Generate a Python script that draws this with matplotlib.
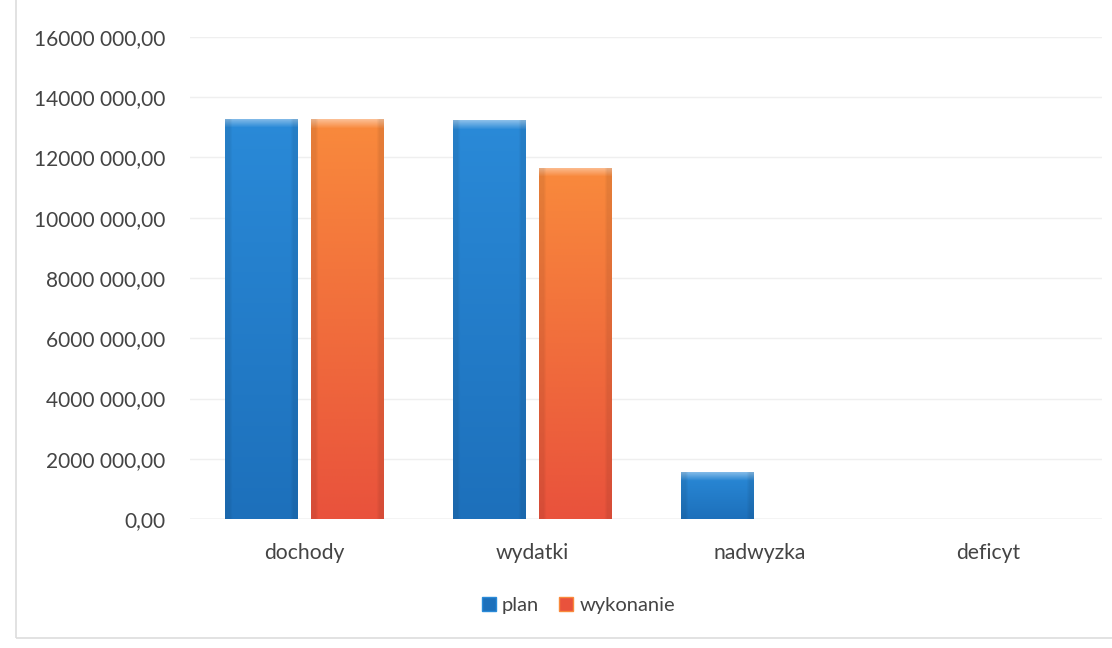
import numpy as np
import matplotlib.pyplot as plt
from matplotlib.colors import to_rgb
from matplotlib.patches import Rectangle

# ------------------------------------------------------------
# data
# ------------------------------------------------------------
categories = ["dochody", "wydatki", "nadwyzka", "deficyt"]
plan = [13290000, 13230000, 1570000, 0]
wykonanie = [13260000, 11650000, 0, 0]

yticks = [0, 2000000, 4000000, 6000000, 8000000, 10000000, 12000000, 14000000, 16000000]
ytick_labels = ["0,00", "2000 000,00", "4000 000,00", "6000 000,00", "8000 000,00",
                "10000 000,00", "12000 000,00", "14000 000,00", "16000 000,00"]

series_names = ["plan", "wykonanie"]
# (top colour, bottom colour) of the gradient fill
series_colors = [("#2a8ad8", "#1d70bb"), ("#f98a3c", "#e9523c")]

plt.rcParams["font.family"] = ["Lato", "DejaVu Sans"]
text_color = "#444444"

fig = plt.figure(figsize=(11.12, 6.48), dpi=100)
ax = fig.add_axes([0.171, 0.199, 0.820, 0.744])

x = np.arange(len(categories))
width = 0.316
offset = 0.19

ax.set_xlim(-0.5, len(categories) - 0.5)
ax.set_ylim(0, 16000000)

# pixel height of one data unit, used for the bevel band
px_per_unit = ax.get_window_extent().height / 16000000


def gradient_bar(bar, top, bottom):
    h = bar.get_height()
    if h <= 0:
        bar.set_visible(False)
        return
    n = max(int(h * px_per_unit), 2)
    t = np.linspace(0, 1, n)[:, None]
    c_top = np.array(to_rgb(top))
    c_bot = np.array(to_rgb(bottom))
    img = c_top * (1 - t[..., None]) + c_bot * t[..., None]
    img = np.repeat(img, 24, axis=1)
    # light bevel along the top edge
    band = min(9, n // 3)
    for i in range(band):
        k = 0.45 * (1 - i / band)
        img[i] = img[i] + (1 - img[i]) * k
    # slightly darker side edges
    img[:, :2] *= 0.92
    img[:, -2:] *= 0.92
    bx, by = bar.get_x(), bar.get_y()
    im = ax.imshow(img, extent=(bx, bx + bar.get_width(), by, by + h),
                   aspect="auto", origin="upper", zorder=3, interpolation="bilinear")
    im.set_clip_path(bar)
    bar.set_facecolor("none")
    bar.set_edgecolor((0, 0, 0, 0.2))
    bar.set_linewidth(0.6)


handles = []
for i, (vals, name, cols) in enumerate(zip([plan, wykonanie], series_names, series_colors)):
    bars = ax.bar(x + (i * 2 - 1) * offset, vals, width, zorder=3, label=name)
    for b in bars:
        gradient_bar(b, *cols)
    handles.append(Rectangle((0, 0), 1, 1, facecolor=cols[1], edgecolor=cols[0]))

# gridlines
ax.set_yticks(yticks)
ax.set_yticklabels(ytick_labels)
ax.yaxis.grid(True, color="#efefef", linewidth=1.0, zorder=0)
ax.axhline(0, color="#dcdcdc", linewidth=1.0, zorder=1)
ax.set_axisbelow(True)

ax.set_xticks(x)
ax.set_xticklabels(categories)

ax.tick_params(axis="y", length=0, pad=18, labelsize=15, labelcolor=text_color)
ax.tick_params(axis="x", length=0, pad=17, labelsize=15.2, labelcolor=text_color)

for s in ax.spines.values():
    s.set_visible(False)

leg = fig.legend(handles, series_names, loc="center", bbox_to_anchor=(0.52, 0.066),
                 ncol=2, frameon=False, fontsize=14.5, handlelength=0.7,
                 handleheight=0.7, handletextpad=0.3, columnspacing=1.0)
for t in leg.get_texts():
    t.set_color(text_color)

# chart area border
fig.patches.append(Rectangle((0.0144, 0.0154), 1.2, 1.2, transform=fig.transFigure,
                             fill=False, edgecolor="#dddddd", linewidth=1.2))

fig.savefig("out.png", dpi=100)
